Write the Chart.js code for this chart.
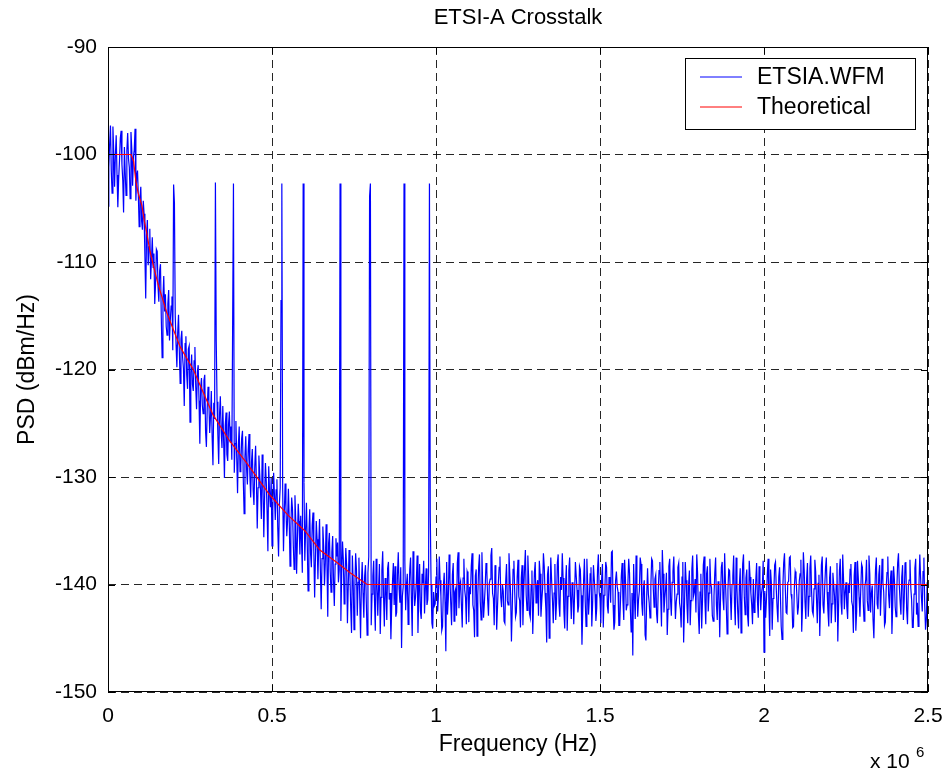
<!DOCTYPE html>
<html>
<head>
<meta charset="utf-8">
<title>ETSI-A Crosstalk</title>
<script src="https://cdn.jsdelivr.net/npm/chart.js@4.4.1/dist/chart.umd.min.js"></script>
<style>
  html, body { margin: 0; padding: 0; background: #fff; }
  #wrap { width: 948px; height: 773px; }
</style>
</head>
<body>
<div id="wrap"><canvas id="psdChart" width="948" height="773"></canvas></div>
<script>
// Eixo X: bins de 2.5 kHz de 0 a 2.5 MHz (1001 valores)
const binHz = 2500;
const xTickLabels = ['0', '0.5', '1', '1.5', '2', '2.5'];

const etsiPsd = [
  -104.8, -101.2, -99.0, -97.3, -101.5, -103.6, -97.4, -99.8, -103.0, -100.1,
  -98.2, -101.9, -104.9, -102.3, -100.6, -98.5, -97.8, -100.9, -102.4, -105.4,
  -99.3, -101.7, -103.8, -99.6, -98.0, -100.4, -101.2, -104.1, -97.9, -99.5,
  -102.9, -100.2, -99.6, -97.6, -104.3, -102.0, -101.5, -103.8, -106.7, -104.0,
  -103.0, -106.2, -107.0, -104.3, -105.5, -109.4, -113.4, -107.5, -106.1, -110.3,
  -108.6, -106.9, -111.6, -109.8, -107.7, -110.5, -109.2, -113.9, -112.0, -108.8,
  -109.0, -112.3, -113.7, -110.8, -110.2, -115.2, -118.9, -113.4, -111.3, -114.6,
  -113.0, -116.0, -116.8, -113.9, -112.6, -117.3, -115.4, -114.1, -113.2, -118.2,
  -102.8, -104.5, -115.0, -117.7, -119.8, -116.6, -114.9, -118.3, -121.3, -117.2,
  -116.4, -118.9, -119.9, -123.4, -117.6, -116.9, -120.5, -121.8, -118.1, -117.8,
  -124.9, -120.3, -118.6, -121.4, -122.0, -119.2, -117.9, -121.6, -123.7, -120.2,
  -119.6, -122.9, -126.9, -121.7, -120.8, -123.3, -124.1, -121.0, -120.5, -125.8,
  -127.2, -123.6, -121.6, -122.9, -125.9, -124.4, -122.0, -126.3, -128.9, -123.1,
  -124.6, -102.6, -117.4, -123.0, -126.1, -128.8, -124.2, -122.5, -125.7, -127.3,
  -123.4, -126.5, -130.1, -125.2, -124.0, -127.9, -128.5, -125.1, -123.9, -126.8,
  -125.3, -128.4, -115.8, -102.7, -129.6, -126.9, -124.8, -128.2, -131.5, -127.0,
  -125.3, -129.5, -129.0, -126.4, -125.7, -130.3, -133.4, -128.1, -126.2, -129.2,
  -130.7, -127.5, -126.0, -129.8, -131.9, -128.6, -127.4, -131.2, -132.6, -129.0,
  -127.1, -130.4, -134.8, -131.0, -128.0, -129.7, -131.3, -133.9, -127.9, -130.6,
  -135.6, -131.8, -128.7, -130.4, -133.2, -136.9, -129.0, -131.5, -132.8, -130.1,
  -136.4, -132.9, -129.6, -131.7, -134.0, -131.2, -130.2, -134.7, -137.4, -132.5,
  -131.0, -113.6, -102.7, -131.0, -136.9, -133.4, -130.6, -132.8, -135.5, -134.1,
  -131.1, -133.9, -138.3, -134.7, -131.9, -133.0, -136.4, -138.6, -131.7, -134.2,
  -139.0, -135.8, -132.5, -134.1, -137.2, -133.6, -136.0, -138.9, -102.7, -130.5,
  -137.8, -134.9, -132.4, -136.2, -140.6, -135.3, -133.0, -137.1, -138.4, -134.5,
  -133.3, -136.9, -141.2, -137.4, -134.1, -135.8, -139.5, -136.3, -133.9, -138.7,
  -142.3, -137.6, -134.6, -136.4, -140.1, -138.0, -134.4, -137.9, -143.0, -136.2,
  -135.2, -138.8, -140.7, -137.0, -135.5, -139.6, -142.0, -138.1, -135.7, -137.4,
  -136.1, -139.8, -138.6, -102.7, -143.4, -138.9, -136.0, -137.7, -141.8, -139.4,
  -136.6, -138.2, -143.6, -140.1, -136.8, -139.0, -142.2, -144.5, -137.3, -139.7,
  -144.2, -140.5, -137.1, -138.6, -142.9, -139.8, -137.5, -141.3, -145.0, -140.0,
  -137.9, -140.8, -143.1, -139.2, -138.2, -141.6, -144.7, -138.9, -137.4, -103.9,
  -102.7, -143.8, -140.9, -139.2, -137.8, -141.5, -144.3, -137.6, -139.9, -142.9,
  -140.3, -138.1, -144.6, -141.2, -138.7, -136.9, -141.0, -143.9, -139.4, -140.6,
  -143.3, -138.5, -137.9, -141.4, -140.8, -145.1, -142.0, -139.6, -138.0, -141.9,
  -138.3, -143.0, -142.6, -139.1, -137.0, -140.4, -141.7, -138.4, -145.9, -141.1,
  -140.2, -102.7, -137.8, -142.4, -140.0, -139.0, -143.7, -141.3, -138.6, -137.5,
  -141.3, -144.8, -136.9, -139.7, -142.0, -141.2, -139.8, -137.3, -144.5, -140.9,
  -138.1, -142.5, -143.2, -139.0, -139.9, -137.8, -142.7, -140.4, -138.5, -141.9,
  -141.4, -138.8, -102.7, -133.5, -140.0, -143.6, -144.1, -140.7, -142.0, -141.8,
  -139.3, -137.6, -142.5, -141.0, -137.4, -139.6, -141.1, -144.3, -143.9, -140.2,
  -138.9, -141.6, -146.2, -137.9, -142.8, -141.3, -137.2, -139.5, -141.8, -143.8,
  -139.1, -138.0, -143.4, -140.7, -140.4, -142.9, -138.0, -137.0, -142.2, -140.1,
  -139.7, -141.9, -144.0, -139.4, -137.6, -140.5, -141.2, -143.7, -138.8, -139.1,
  -143.5, -140.2, -140.9, -138.3, -137.1, -141.9, -142.4, -144.9, -139.2, -138.6,
  -144.8, -141.0, -138.4, -137.2, -141.6, -143.3, -137.0, -140.3, -143.1, -141.7,
  -140.2, -138.0, -138.7, -141.4, -142.9, -139.9, -139.5, -137.3, -136.6, -140.8,
  -141.3, -143.8, -138.2, -139.6, -144.2, -142.1, -139.9, -138.4, -137.4, -141.2,
  -142.1, -140.0, -140.6, -143.4, -143.6, -139.7, -138.1, -141.5, -141.9, -137.1,
  -139.0, -140.9, -145.3, -142.2, -138.6, -137.8, -140.7, -143.0, -142.6, -139.3,
  -137.7, -141.1, -141.5, -144.0, -139.4, -138.2, -143.8, -140.5, -138.5, -136.8,
  -141.0, -142.4, -137.3, -139.5, -142.7, -143.1, -140.1, -138.7, -144.6, -141.6,
  -138.9, -137.9, -141.7, -140.2, -139.6, -142.9, -137.8, -139.0, -143.0, -141.5,
  -140.4, -137.1, -138.3, -140.8, -142.3, -145.4, -139.1, -138.3, -145.0, -141.2,
  -137.5, -139.6, -141.4, -143.6, -140.8, -138.1, -143.3, -141.7, -138.0, -137.2,
  -141.8, -143.0, -139.3, -140.5, -137.1, -139.4, -142.5, -144.1, -140.0, -138.2,
  -144.3, -141.1, -138.7, -137.5, -141.1, -143.2, -139.8, -140.6, -143.7, -140.9,
  -137.9, -139.2, -140.5, -142.6, -142.0, -138.3, -138.6, -141.0, -145.6, -142.4,
  -139.7, -137.6, -141.6, -143.9, -137.6, -140.1, -142.8, -141.3, -139.0, -138.4,
  -143.9, -141.8, -138.2, -139.5, -140.9, -143.4, -142.2, -138.6, -137.2, -140.7,
  -141.3, -143.6, -139.5, -138.1, -144.0, -141.0, -140.3, -137.9, -138.4, -142.0,
  -142.7, -139.3, -139.9, -141.7, -137.0, -136.9, -141.9, -144.2, -143.5, -139.6,
  -138.8, -140.2, -140.7, -143.8, -143.8, -141.5, -139.2, -138.0, -141.5, -143.3,
  -137.7, -139.4, -142.4, -141.9, -140.0, -137.6, -138.9, -142.3, -144.4, -140.8,
  -146.6, -138.1, -141.2, -143.2, -137.3, -139.9, -143.0, -141.4, -140.6, -137.5,
  -138.1, -141.8, -142.9, -140.3, -139.6, -144.7, -145.2, -141.0, -138.5, -140.9,
  -141.7, -143.1, -140.2, -137.6, -137.8, -140.4, -142.1, -139.5, -139.1, -142.7,
  -143.6, -140.6, -138.7, -137.9, -141.0, -143.9, -136.8, -139.0, -142.6, -141.3,
  -140.4, -138.9, -144.7, -142.3, -138.3, -137.6, -141.4, -142.9, -139.8, -138.8,
  -137.4, -140.5, -143.2, -141.6, -140.9, -138.4, -138.0, -141.7, -142.3, -144.0,
  -139.3, -137.9, -145.4, -142.2, -137.9, -139.6, -141.8, -143.6, -140.1, -138.7,
  -143.8, -141.5, -138.6, -137.3, -141.1, -140.7, -139.5, -142.6, -137.2, -138.9,
  -142.8, -144.6, -140.7, -139.0, -144.1, -141.5, -138.2, -137.4, -141.6, -143.7,
  -139.0, -138.3, -142.5, -140.8, -137.6, -139.9, -140.3, -142.9, -143.4, -141.1,
  -138.9, -137.5, -141.9, -143.3, -139.7, -140.2, -144.9, -141.2, -138.4, -137.9,
  -141.3, -142.4, -137.1, -139.8, -142.0, -144.6, -140.5, -138.6, -138.7, -141.0,
  -143.3, -140.0, -139.2, -137.3, -141.7, -143.8, -137.5, -140.3, -142.6, -144.1,
  -140.0, -138.5, -144.5, -141.6, -138.1, -137.2, -141.2, -142.8, -139.4, -138.6,
  -142.9, -143.9, -137.8, -139.3, -140.8, -141.9, -143.7, -139.5, -142.6, -141.8,
  -139.6, -138.0, -141.5, -143.1, -138.3, -139.7, -142.4, -140.8, -140.2, -137.8,
  -146.3, -140.6, -143.1, -141.4, -139.1, -137.6, -141.8, -144.8, -138.6, -139.9,
  -144.2, -141.3, -140.7, -138.2, -137.9, -140.5, -142.2, -143.5, -139.3, -138.4,
  -141.0, -143.9, -145.1, -140.2, -138.0, -137.1, -140.4, -142.6, -142.7, -139.8,
  -139.7, -137.5, -137.4, -140.9, -141.4, -144.0, -143.9, -140.3, -138.8, -139.2,
  -140.9, -142.8, -142.1, -139.7, -139.0, -137.7, -144.4, -142.0, -137.0, -138.6,
  -141.6, -143.2, -139.5, -138.0, -143.0, -141.1, -138.5, -137.3, -140.6, -142.5,
  -142.8, -140.4, -137.7, -138.8, -141.3, -143.6, -139.9, -139.1, -144.8, -141.4,
  -138.2, -137.4, -141.9, -142.7, -140.3, -138.5, -137.5, -140.7, -142.5, -143.9,
  -139.4, -138.3, -143.6, -141.8, -138.9, -140.0, -141.1, -143.5, -140.0, -138.0,
  -145.3, -141.9, -138.7, -137.6, -141.7, -142.8, -137.2, -139.5, -142.3, -140.6,
  -139.8, -142.1, -143.2, -139.9, -140.8, -138.6, -138.1, -141.6, -142.0, -144.5,
  -139.2, -137.9, -144.3, -142.5, -137.8, -139.4, -141.2, -143.0, -140.5, -138.1,
  -138.4, -141.6, -143.4, -140.2, -139.6, -137.7, -141.5, -142.4, -137.3, -139.0,
  -142.6, -140.8, -140.1, -143.3, -145.0, -141.2, -138.6, -137.5, -141.8, -142.3,
  -139.1, -138.2, -142.9, -140.6, -137.6, -139.8, -140.7, -143.8, -143.5, -140.4,
  -138.9, -137.4, -141.0, -142.2, -139.7, -138.7, -144.6, -141.9, -138.3, -139.5,
  -142.1, -143.0, -140.4, -138.0, -137.1, -140.1, -141.6, -142.8, -139.3, -138.2,
  -143.3, -141.4, -138.0, -137.9, -142.4, -143.7, -140.2, -139.6, -137.7, -140.3,
  -141.4, -144.0, -144.0, -140.9, -138.5, -137.6, -142.8, -141.7, -143.9, -140.0,
  -137.2, -139.4, -141.2, -142.5, -138.8, -137.5, -141.9, -144.2, -143.2, -139.8,
  -143.0
];

// Curva teórica (pontos de quebra)
const theoFreqMHz = [0, 0.07, 0.078, 0.085, 0.092, 0.103, 0.111, 0.118, 0.128, 0.138, 0.153, 0.179,
  0.22, 0.26, 0.32, 0.37, 0.423, 0.494, 0.55, 0.6, 0.646, 0.7, 0.738, 0.79, 2.5];
const theoPsd = [-100, -100, -100.6, -102.5, -103.6, -104.7, -106.2, -107.3, -109, -110.3, -112.1, -114.7,
  -117.9, -120, -124.2, -126.6, -128.7, -131.7, -133.6, -135, -136.8, -138, -138.9, -140, -140];

const FONT = '"Liberation Sans", Arial, Helvetica, sans-serif';
const BLUE = '#0000ff';
const RED = '#ff0000';

// Moldura estilo MATLAB: título, caixa, ticks para dentro, legenda e expoente "x 10^6"
const matlabFrame = {
    id: 'matlabFrame',
    afterDraw(chart) {
        const { ctx, chartArea: a, scales } = chart;
        ctx.save();
        ctx.strokeStyle = '#000';
        ctx.lineWidth = 1;
        ctx.setLineDash([]);

        const seg = (x1, y1, x2, y2) => {
            ctx.beginPath();
            ctx.moveTo(x1, y1);
            ctx.lineTo(x2, y2);
            ctx.stroke();
        };
        const tk = 7;
        scales.x.ticks.forEach(t => {
            const px = Math.round(scales.x.getPixelForValue(t.value)) + 0.5;
            seg(px, a.bottom, px, a.bottom - tk);
            seg(px, a.top, px, a.top + tk);
        });
        scales.y.ticks.forEach(t => {
            const py = Math.round(scales.y.getPixelForValue(t.value)) + 0.5;
            seg(a.left, py, a.left + tk, py);
            seg(a.right, py, a.right - tk, py);
        });
        ctx.strokeRect(a.left + 0.5, a.top + 0.5, a.right - a.left - 1, a.bottom - a.top - 1);

        // título centrado sobre a área do gráfico
        ctx.fillStyle = '#000';
        ctx.font = '22px ' + FONT;
        ctx.textAlign = 'center';
        ctx.textBaseline = 'middle';
        ctx.fillText('ETSI-A Crosstalk', (a.left + a.right) / 2, 18);

        // legenda
        const lx = a.right - 243, ly = a.top + 11, lw = 230, lh = 71;
        ctx.fillStyle = '#fff';
        ctx.fillRect(lx, ly, lw, lh);
        ctx.strokeRect(lx + 0.5, ly + 0.5, lw, lh);
        ctx.font = '23px ' + FONT;
        ctx.textAlign = 'left';
        const entries = [['ETSIA.WFM', BLUE], ['Theoretical', RED]];
        entries.forEach(([label, color], i) => {
            const yy = ly + 19 + i * 30;
            ctx.strokeStyle = color;
            ctx.lineWidth = 1;
            seg(lx + 15, yy, lx + 57, yy);
            ctx.fillStyle = '#000';
            ctx.fillText(label, lx + 72, yy + 1);
        });

        // expoente do eixo X
        ctx.fillStyle = '#000';
        ctx.textBaseline = 'alphabetic';
        ctx.font = '21px ' + FONT;
        ctx.fillText('x 10', a.right - 58, a.bottom + 76);
        ctx.font = '15px ' + FONT;
        ctx.fillText('6', a.right - 12, a.bottom + 65);
        ctx.restore();
    }
};

function initPsdChart(canvasId) {
    const ctx = document.getElementById(canvasId);
    if (!ctx) return;

    const measured = etsiPsd.map((v, i) => ({ x: i * binHz, y: v }));
    const theoretical = theoPsd.map((v, i) => ({ x: theoFreqMHz[i] * 1e6, y: v }));

    new Chart(ctx.getContext('2d'), {
        type: 'line',
        data: {
            datasets: [{
                label: 'ETSIA.WFM',
                data: measured,
                borderColor: BLUE,
                borderWidth: 1.2,
                pointRadius: 0,
                tension: 0,
                order: 1
            }, {
                label: 'Theoretical',
                data: theoretical,
                borderColor: RED,
                borderWidth: 1.2,
                pointRadius: 0,
                tension: 0,
                order: 0
            }]
        },
        options: {
            responsive: false,
            animation: false,
            layout: { padding: { left: 0, right: 20, top: 47, bottom: 0 } },
            plugins: {
                legend: { display: false },
                tooltip: { enabled: false },
                title: { display: false }
            },
            scales: {
                x: {
                    type: 'linear',
                    min: 0,
                    max: 2.5e6,
                    afterFit: s => { s.height = 81; s.paddingLeft = 0; s.paddingRight = 0; },
                    ticks: {
                        stepSize: 0.5e6,
                        color: '#000',
                        padding: 12,
                        maxRotation: 0,
                        font: { family: FONT, size: 21 },
                        callback: (v, i) => xTickLabels[i]
                    },
                    grid: { color: 'rgba(0,0,0,0.85)', drawTicks: false },
                    border: { display: false, dash: [8, 5] },
                    title: {
                        display: true,
                        text: 'Frequency (Hz)',
                        color: '#000',
                        font: { family: FONT, size: 23 },
                        padding: { bottom: 15 }
                    }
                },
                y: {
                    min: -150,
                    max: -90,
                    afterFit: s => { s.width = 108; s.paddingTop = 0; s.paddingBottom = 0; },
                    ticks: {
                        stepSize: 10,
                        color: '#000',
                        padding: 11,
                        font: { family: FONT, size: 21 }
                    },
                    grid: { color: 'rgba(0,0,0,0.85)', drawTicks: false },
                    border: { display: false, dash: [8, 5] },
                    title: {
                        display: true,
                        text: 'PSD (dBm/Hz)',
                        color: '#000',
                        font: { family: FONT, size: 23 },
                        padding: { top: 14 }
                    }
                }
            }
        },
        plugins: [matlabFrame]
    });
}

initPsdChart('psdChart');
</script>
</body>
</html>
